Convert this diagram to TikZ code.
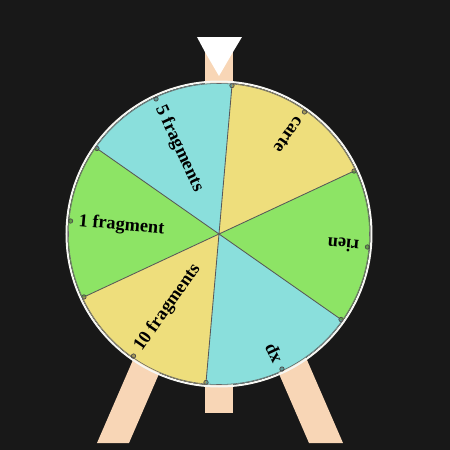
\documentclass[tikz,border=0pt]{standalone}
\usepackage{fontspec}
\setmainfont{Liberation Serif}
\usepackage{tikz}
\usetikzlibrary{calc}
\usepackage{xcolor}

\definecolor{bgDark}{HTML}{181818}
\definecolor{wedgeYellow}{HTML}{EEDE7C}
\definecolor{wedgeCyan}{HTML}{8ADFDC}
\definecolor{wedgeGreen}{HTML}{8DE465}
\definecolor{standPeach}{HTML}{F8D6B6}
\definecolor{rimWhite}{HTML}{F6F6F2}

\begin{document}
\begin{tikzpicture}[x=0.025cm, y=0.025cm,
    wood/.style={fill=standPeach},
    spoke/.style={draw=black!65, line width=0.6pt},
    rimdot/.style={circle, draw=black!70, fill=black, fill opacity=0.3, draw opacity=1,
                   line width=0.5pt, inner sep=0pt, minimum size=0.11cm},
    prize/.style={anchor=west, inner sep=0pt, font=\bfseries\fontsize{13}{15}\selectfont}
  ]
    % background and frame
    \fill[bgDark] (-219,-216) rectangle (231,234);
    \useasboundingbox (-219,-216) rectangle (231,234);

    % stand
    \fill[wood] (-122,-209) -- (-90,-209) -- (-28,-66) -- (-60,-66) -- cycle;
    \fill[wood] (90,-209) -- (124,-209) -- (62,-66) -- (28,-66) -- cycle;
    \fill[wood] (-14,182) rectangle (14,-179);

    % wheel sectors
    \fill[wedgeYellow] (0,0) -- (25:151)  arc[start angle=25,  end angle=85,  radius=151] -- cycle;
    \fill[wedgeCyan]   (0,0) -- (85:151)  arc[start angle=85,  end angle=145, radius=151] -- cycle;
    \fill[wedgeGreen]  (0,0) -- (145:151) arc[start angle=145, end angle=205, radius=151] -- cycle;
    \fill[wedgeYellow] (0,0) -- (205:151) arc[start angle=205, end angle=265, radius=151] -- cycle;
    \fill[wedgeCyan]   (0,0) -- (265:151) arc[start angle=265, end angle=325, radius=151] -- cycle;
    \fill[wedgeGreen]  (0,0) -- (325:151) arc[start angle=325, end angle=385, radius=151] -- cycle;

    \coordinate (hub) at (0,0);
    \foreach \a in {25,85,145,205,265,325}{
      \node[rimdot] (edge\a) at (\a:149) {};
      \draw[spoke] (hub) -- (edge\a);
    }

    \draw[black!60, line width=0.4pt] (hub) circle[radius=150.5];
    \draw[rimWhite, line width=0.05cm] (hub) circle[radius=152.5];

    % prizes
    \node[rimdot] (dotCarte) at (55:149) {};
    \node[prize, rotate=235] (carte) at (55:141) {carte};
    \node[rimdot] (dotFive) at (115:149) {};
    \node[prize, rotate=295] (five) at (115:141) {5 fragments};
    \node[rimdot] (dotOne) at (175:149) {};
    \node[prize, rotate=355] (one) at (175:141) {1 fragment};
    \node[rimdot] (dotTen) at (235:149) {};
    \node[prize, rotate=55] (ten) at (235:141) {10 fragments};
    \node[rimdot] (dotXp) at (295:149) {};
    \node[prize, rotate=115] (xp) at (295:141) {xp};
    \node[rimdot] (dotRien) at (355:149) {};
    \node[prize, rotate=175] (rien) at (355:141) {rien};

    % pointer
    \fill[white] (-22,197) -- (23,197) -- (14,182) -- (-14,182) -- cycle;
    \fill[white] (-14,182) -- (14,182) -- (0,158) -- cycle;
\end{tikzpicture}
\end{document}
